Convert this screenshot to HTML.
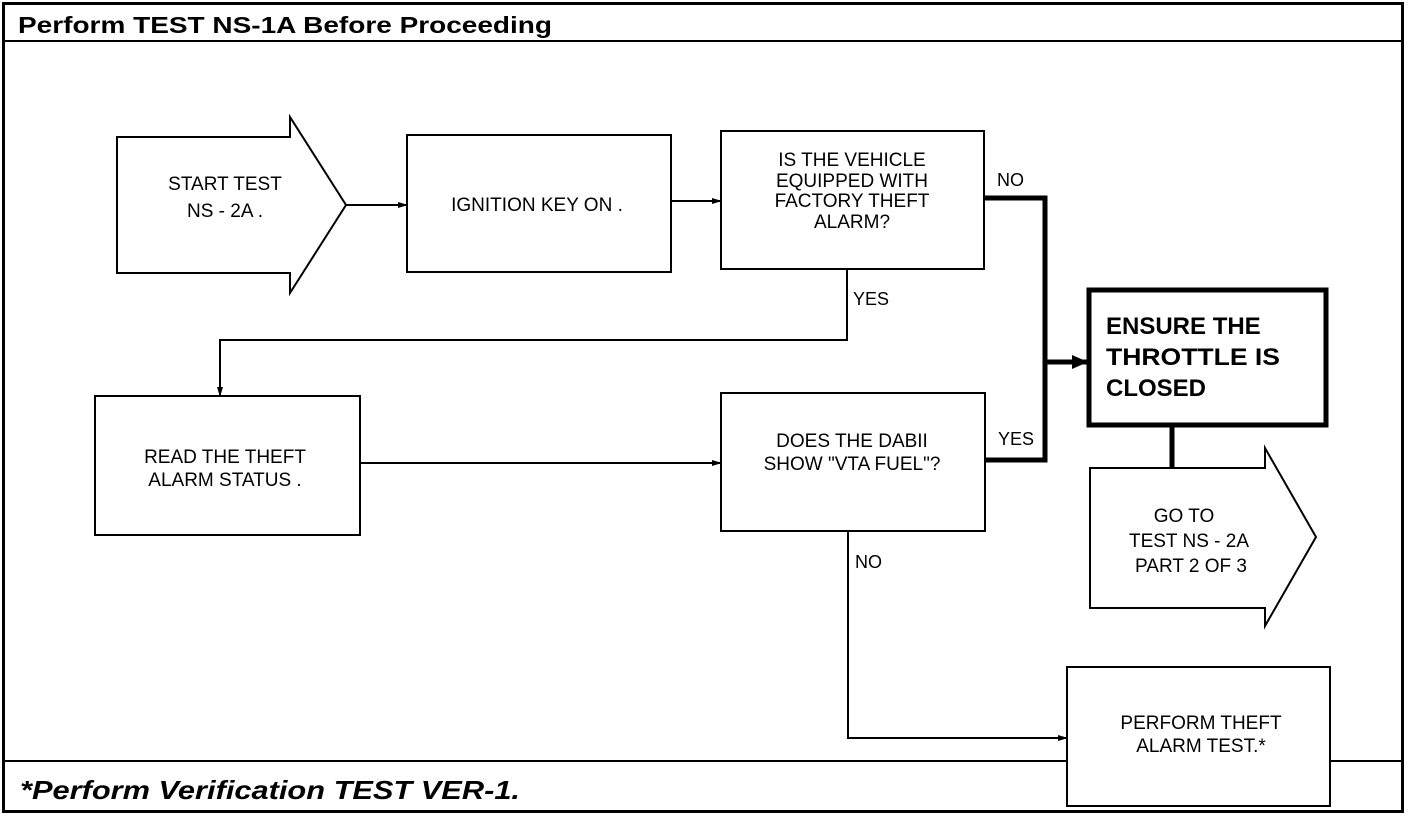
<!DOCTYPE html>
<html><head><meta charset="utf-8"><style>
html,body{margin:0;padding:0;background:#fff;}
svg{display:block;}
text{font-family:"Liberation Sans",sans-serif;fill:#000;}
</style></head><body>
<svg width="1408" height="816" viewBox="0 0 1408 816" xmlns="http://www.w3.org/2000/svg">
<defs>
<marker id="a" markerWidth="10" markerHeight="8" refX="9" refY="4" orient="auto" markerUnits="userSpaceOnUse"><path d="M0,1 L10,4 L0,7 z" fill="#000"/></marker>
<marker id="b" markerWidth="16" markerHeight="14" refX="15" refY="7" orient="auto" markerUnits="userSpaceOnUse"><path d="M0,0 L16,7 L0,14 z" fill="#000"/></marker>
</defs>
<rect x="3.5" y="3.5" width="1399" height="808" fill="none" stroke="#000" stroke-width="3"/>
<line x1="3" y1="41" x2="1403" y2="41" stroke="#000" stroke-width="2"/>
<line x1="3" y1="761" x2="1403" y2="761" stroke="#000" stroke-width="2"/>
<text x="18" y="33" font-size="23" font-weight="bold" textLength="534" lengthAdjust="spacingAndGlyphs">Perform TEST NS-1A Before Proceeding</text>
<text x="20" y="799" font-size="26" font-weight="bold" font-style="italic" textLength="500" lengthAdjust="spacingAndGlyphs">*Perform Verification TEST VER-1.</text>

<g fill="none" stroke="#000" stroke-width="2">
<path d="M117,137 H290 V117 L346,205 L290,293 V273 H117 Z" fill="#fff"/>
<rect x="407" y="135" width="264" height="137"/>
<rect x="721" y="131" width="263" height="138"/>
<rect x="95" y="396" width="265" height="139"/>
<rect x="721" y="393" width="264" height="138"/>
<path d="M1090,468 H1265 V448 L1316,537 L1265,626 V608 H1090 Z" fill="#fff"/>
<line x1="346" y1="205" x2="407" y2="205" marker-end="url(#a)"/>
<line x1="671" y1="201" x2="721" y2="201" marker-end="url(#a)"/>
<polyline points="847,269 847,340 220,340 220,396" marker-end="url(#a)"/>
<line x1="360" y1="463" x2="721" y2="463" marker-end="url(#a)"/>
<polyline points="848,531 848,738 1067,738" marker-end="url(#a)"/>
</g>
<rect x="1067" y="667" width="263" height="139" fill="#fff" stroke="#000" stroke-width="2"/>
<g fill="none" stroke="#000" stroke-width="5">
<polyline points="984,198 1045,198 1045,460 985,460"/>
<line x1="1045" y1="362" x2="1087" y2="362" marker-end="url(#b)"/>
<rect x="1089" y="290" width="237" height="135"/>
<line x1="1172" y1="426" x2="1172" y2="468"/>
</g>

<g font-size="19" text-anchor="middle">
<text x="225" y="190">START TEST</text>
<text x="225" y="217">NS - 2A .</text>
<text x="537" y="211">IGNITION KEY ON .</text>
<text x="852" y="166">IS THE VEHICLE</text>
<text x="852" y="187">EQUIPPED WITH</text>
<text x="852" y="207">FACTORY THEFT</text>
<text x="852" y="228">ALARM?</text>
<text x="225" y="463">READ THE THEFT</text>
<text x="225" y="486">ALARM STATUS .</text>
<text x="852" y="447">DOES THE DABII</text>
<text x="852" y="470">SHOW "VTA FUEL"?</text>
<text x="1184" y="522">GO TO</text>
<text x="1189" y="547">TEST NS - 2A</text>
<text x="1191" y="572">PART 2 OF 3</text>
<text x="1201" y="729">PERFORM THEFT</text>
<text x="1201" y="752">ALARM TEST.*</text>
</g>
<g font-size="18">
<text x="997" y="186">NO</text>
<text x="853" y="305">YES</text>
<text x="998" y="445">YES</text>
<text x="855" y="568">NO</text>
</g>
<g font-size="24" font-weight="bold">
<text x="1106" y="334">ENSURE THE</text>
<text x="1106" y="365" textLength="174" lengthAdjust="spacingAndGlyphs">THROTTLE IS</text>
<text x="1106" y="396">CLOSED</text>
</g>
</svg>
</body></html>
